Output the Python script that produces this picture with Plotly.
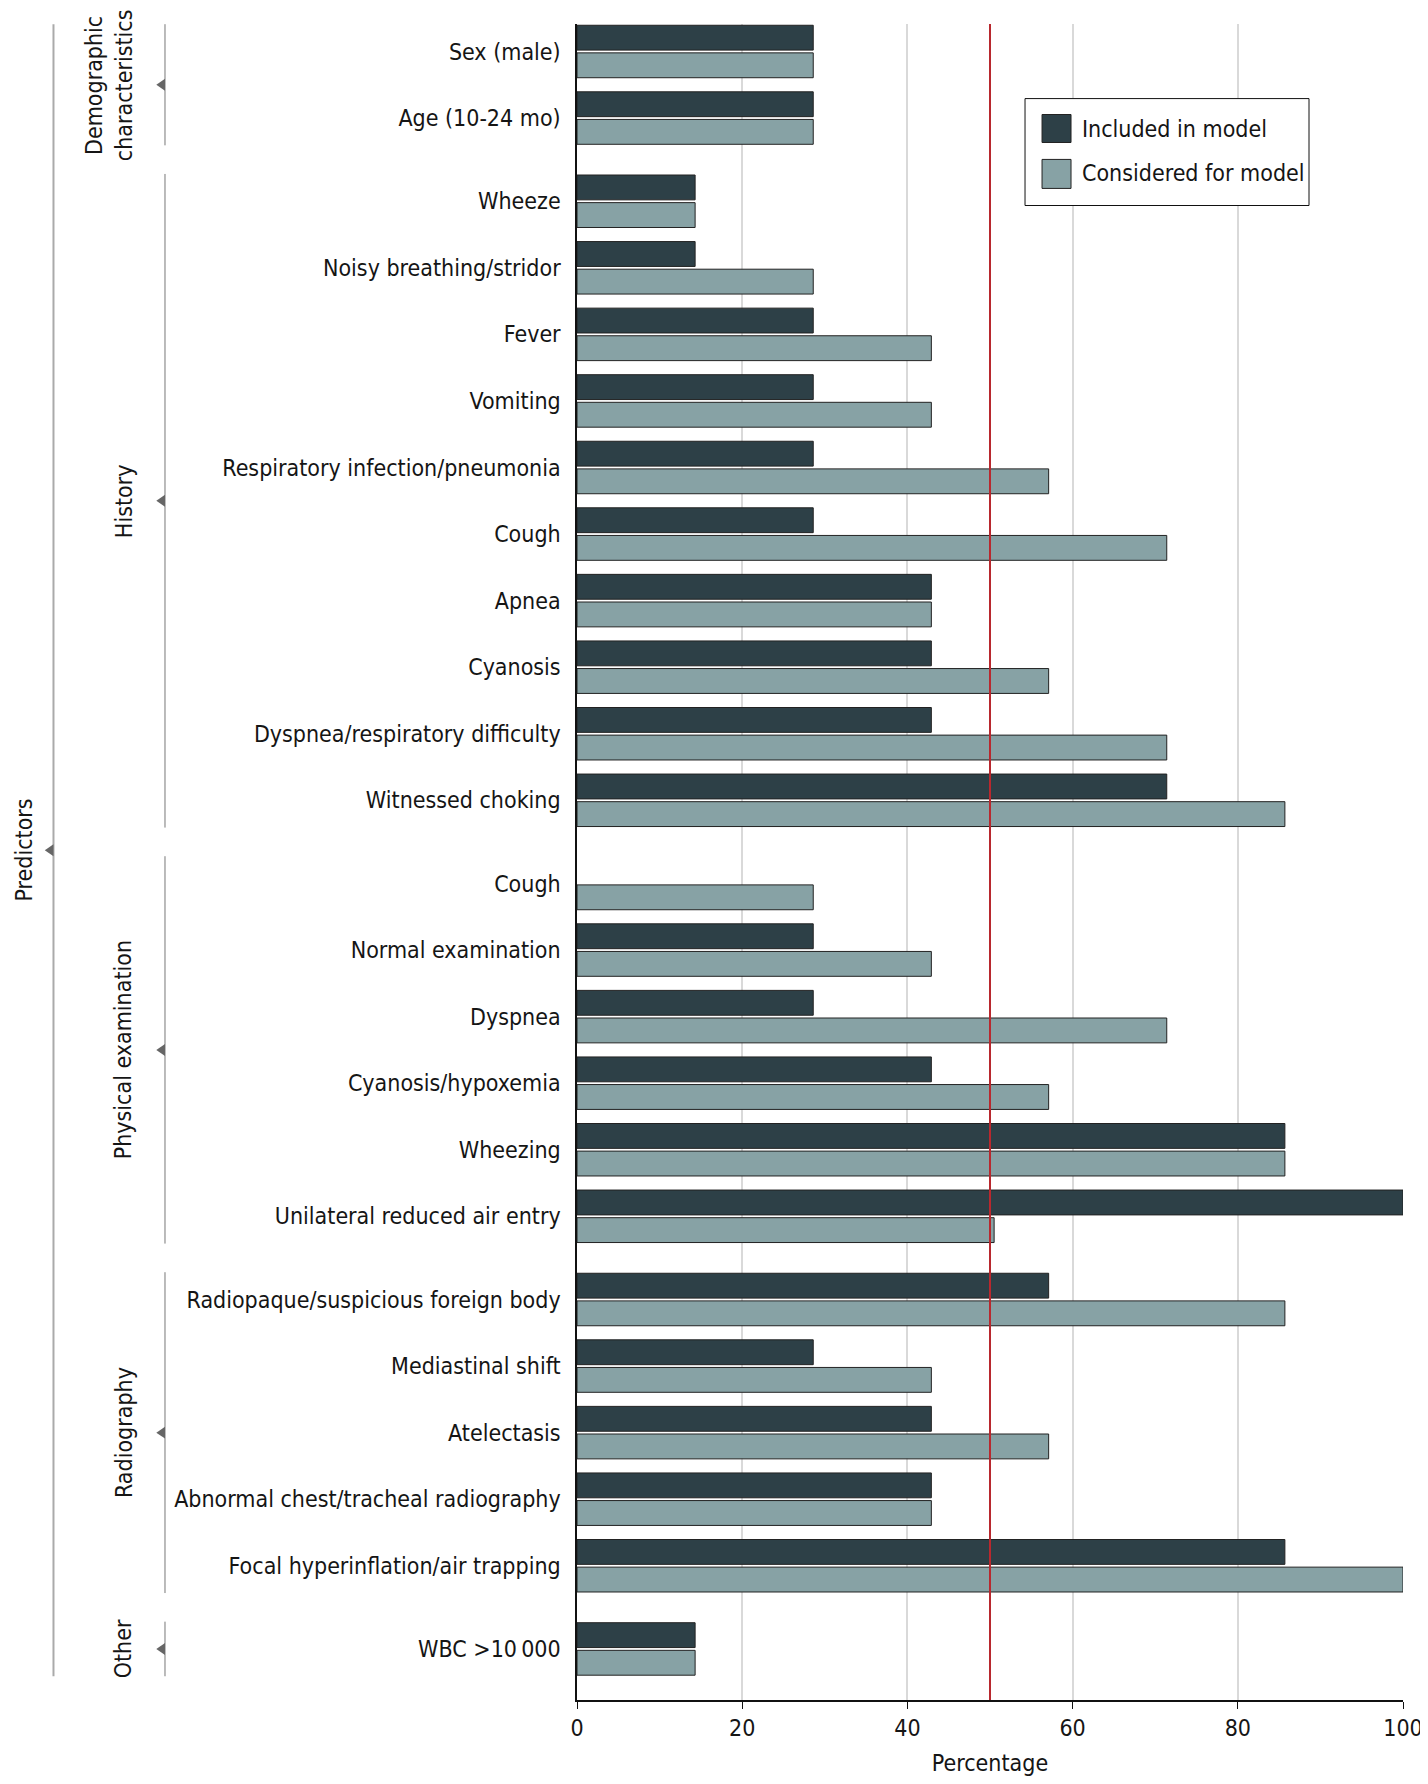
import plotly.graph_objects as go

# ----------------------------------------------------------
# DATA
# ----------------------------------------------------------

groups = ["Demographic<br>characteristics", "History", "Physical examination",
          "Radiography", "Other"]

group_items = [
    ["Sex (male)", "Age (10-24 mo)"],
    ["Wheeze", "Noisy breathing/stridor", "Fever", "Vomiting",
     "Respiratory infection/pneumonia", "Cough", "Apnea", "Cyanosis",
     "Dyspnea/respiratory difficulty", "Witnessed choking"],
    ["Cough", "Normal examination", "Dyspnea", "Cyanosis/hypoxemia",
     "Wheezing", "Unilateral reduced air entry"],
    ["Radiopaque/suspicious foreign body", "Mediastinal shift", "Atelectasis",
     "Abnormal chest/tracheal radiography", "Focal hyperinflation/air trapping"],
    ["WBC >10\u2009000"],
]

included = [
    28.6, 28.6,
    14.3, 14.3, 28.6, 28.6, 28.6, 28.6, 42.9, 42.9, 42.9, 71.4,
    0, 28.6, 28.6, 42.9, 85.7, 100,
    57.1, 28.6, 42.9, 42.9, 85.7,
    14.3,
]

considered = [
    28.6, 28.6,
    14.3, 28.6, 42.9, 42.9, 57.1, 71.4, 42.9, 57.1, 71.4, 85.7,
    28.6, 42.9, 71.4, 57.1, 85.7, 50.5,
    85.7, 42.9, 57.1, 42.9, 100,
    14.3,
]

x_ticks = [0, 20, 40, 60, 80, 100]
threshold = 50

# ----------------------------------------------------------
# STYLE
# ----------------------------------------------------------

DARK = "#2d4047"
LIGHT = "#87a2a5"
RED = "#b8282e"
TEXT = "#151515"
FONT = "DejaVu Sans Condensed, Liberation Sans Narrow, sans-serif"
SIZE = 23
GROUP_GAP = 0.25

# row positions: one unit per row, small extra gap between groups
labels, positions, spans = [], [], []
row = 0
for g, items in enumerate(group_items):
    start = row + g * GROUP_GAP
    for name in items:
        labels.append(name)
        positions.append(row + g * GROUP_GAP)
        row += 1
    spans.append((start, positions[-1]))


def outline(values):
    # no outline for empty bars
    return [1 if v > 0 else 0 for v in values]


fig = go.Figure()

fig.add_trace(go.Bar(
    x=included, y=positions, orientation="h", name="Included in model",
    marker=dict(color=DARK, line=dict(color="#222", width=outline(included))),
))
fig.add_trace(go.Bar(
    x=considered, y=positions, orientation="h", name="Considered for model",
    marker=dict(color=LIGHT, line=dict(color="#222", width=outline(considered))),
))

# threshold line
fig.add_shape(type="line", xref="x", yref="paper", x0=threshold, x1=threshold,
              y0=0, y1=1, line=dict(color=RED, width=2), layer="above")

# group brackets
GX = -0.4988
for (a, b), name in zip(spans, groups):
    mid = (a + b) / 2
    fig.add_shape(type="line", xref="paper", yref="y", x0=GX, x1=GX,
                  y0=a - 0.41, y1=b + 0.41, line=dict(color="#777", width=1))
    fig.add_shape(type="path", xref="paper", yref="y", fillcolor="#666",
                  line=dict(width=0),
                  path=f"M {GX},{mid - 0.09} L {GX},{mid + 0.09} L {GX - 0.0105},{mid} Z")
    fig.add_annotation(text=name, xref="paper", yref="y", x=-0.531, y=mid,
                       xanchor="right", yanchor="middle",
                       textangle=-90, showarrow=False,
                       font=dict(size=SIZE, color=TEXT, family=FONT))

# predictors bracket
PX = -0.6338
top, bottom = spans[0][0] - 0.41, spans[-1][1] + 0.41
fig.add_shape(type="line", xref="paper", yref="y", x0=PX, x1=PX,
              y0=top, y1=bottom, line=dict(color="#aaa", width=2))
pmid = (top + bottom) / 2
fig.add_shape(type="path", xref="paper", yref="y", fillcolor="#666",
              line=dict(width=0),
              path=f"M {PX},{pmid - 0.09} L {PX},{pmid + 0.09} L {PX - 0.0105},{pmid} Z")
fig.add_annotation(text="Predictors", xref="paper", yref="y", x=-0.651, y=pmid,
                   xanchor="right", yanchor="middle",
                   textangle=-90, showarrow=False,
                   font=dict(size=SIZE, color=TEXT, family=FONT))

# legend box (drawn by hand to get large swatches)
fig.add_shape(type="rect", xref="paper", yref="paper", x0=0.5424, x1=0.8862,
              y0=0.8917, y1=0.9555, line=dict(color="#111", width=1),
              fillcolor="white", layer="above")
for (y0, y1, col, txt, ty) in [
    (0.9293, 0.9460, DARK, "Included in model", 0.9376),
    (0.9019, 0.9192, LIGHT, "Considered for model", 0.9108),
]:
    fig.add_shape(type="rect", xref="paper", yref="paper", x0=0.5630, x1=0.5981,
                  y0=y0, y1=y1, fillcolor=col, line=dict(color="#222", width=1),
                  layer="above")
    fig.add_annotation(text=txt, xref="paper", yref="paper", x=0.6090, y=ty,
                       xanchor="left", yanchor="middle", showarrow=False,
                       font=dict(size=SIZE, color=TEXT, family=FONT))

# page body has an 8px margin, so the figure is sized to sit inside it
fig.update_layout(
    width=1420,
    height=1768,
    barmode="group",
    bargap=0.17,
    bargroupgap=0.1,
    showlegend=False,
    paper_bgcolor="white",
    plot_bgcolor="white",
    margin=dict(l=569, r=25, t=16, b=76),
    font=dict(family=FONT, size=SIZE, color=TEXT),
    xaxis=dict(
        range=[0, 100],
        tickvals=x_ticks,
        tickfont=dict(size=SIZE),
        ticklabeloverflow="allow",
        showgrid=True,
        gridcolor="#d9d9d9",
        gridwidth=1.5,
        zeroline=False,
        showline=True,
        linecolor="#111",
        linewidth=1.5,
        ticks="outside",
        ticklen=7,
        tickcolor="#111",
        automargin=False,
        title=dict(text="Percentage", standoff=16, font=dict(size=SIZE)),
    ),
    yaxis=dict(
        range=[positions[-1] + 0.767, -0.413],
        tickvals=positions,
        ticktext=labels,
        tickfont=dict(size=SIZE),
        showgrid=False,
        zeroline=False,
        showline=True,
        linecolor="#111",
        linewidth=1.5,
        ticks="",
        ticklabelstandoff=10,
        automargin=False,
    ),
)

fig.write_html("out.html")
